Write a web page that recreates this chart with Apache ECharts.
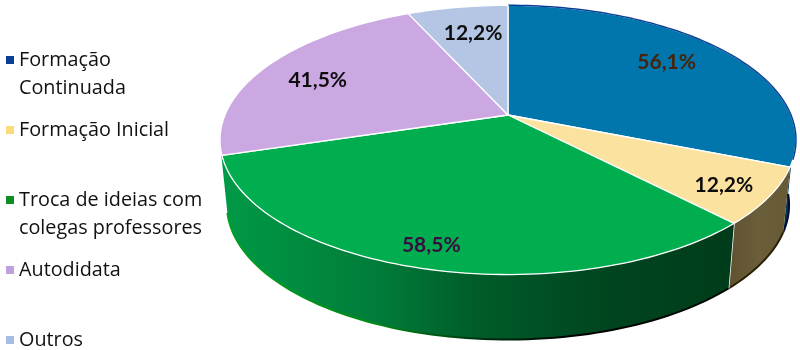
<!DOCTYPE html>
<html><head><meta charset="utf-8">
<script src="https://cdn.jsdelivr.net/npm/echarts@6/dist/echarts.min.js"></script>
<style>html,body{margin:0;padding:0;background:#fff}#c{width:800px;height:350px;filter:blur(0.4px)}</style>
</head><body><div id="c"></div>
<script>
const categories = ['Formação Continuada','Formação Inicial','Troca de ideias com colegas professores','Autodidata','Outros'];
const legendLabels = ['Formação\nContinuada','Formação Inicial\n ','Troca de ideias com\ncolegas professores','Autodidata\n ','Outros\n '];
const values = [56.1,12.2,58.5,41.5,12.2];
const legendColors = ['#0b3f96','#fbdc78','#0b8f23','#bf9fe0','#a5bde5'];
const faceColors = ['#0076ad','#fbe29f','#00ae4f','#cba8e2','#b4c6e4'];
const labelColors = ['#47230a','#0d0d0d','#3a0d40','#0d0d0d','#0d0d0d'];
const labelRadius = [0.75,0.849,0.877,0.762,0.725];
const labelAngleShift = [-2,1.15,0.55,-2.5,1.05];

// Perspective view of the disc
const CX=508, CY=115, RX=283, RY=130, K=0.1852, DEPTH=65, BOTTOM_SCALE=0.976;
const RAD=Math.PI/180;
function topPoint(theta,r){
  r = r===undefined?1:r;
  const u=r*Math.sin(theta*RAD), v=-r*Math.cos(theta*RAD), s=1/(1-K*v);
  return [CX+RX*u*s, CY+RY*v*s];
}
function bottomPoint(theta){
  const p=topPoint(theta);
  return [CX+(p[0]-CX)*BOTTOM_SCALE, p[1]+DEPTH];
}
function arc(fn,a,b){
  const n=Math.max(2,Math.ceil(Math.abs(b-a)/1.5)), pts=[];
  for(let i=0;i<=n;i++) pts.push(fn(a+(b-a)*i/n));
  return pts;
}
const total=values.reduce((a,b)=>a+b,0);
const starts=[]; values.reduce((acc,v,i)=>{starts[i]=acc;return acc+v/total*360;},0);

const hGrad=stops=>({type:'linear',x:0,y:0,x2:1,y2:0,global:false,colorStops:stops});
const wallFill=[
  hGrad([{offset:0,color:'#00304f'},{offset:1,color:'#00406a'}]),
  hGrad([{offset:0,color:'#5e5230'},{offset:0.5,color:'#6b5e3a'},{offset:1,color:'#665a35'}]),
  hGrad([{offset:0,color:'#009a47'},{offset:0.3,color:'#007d39'},{offset:0.5,color:'#005c2a'},{offset:0.75,color:'#00451f'},{offset:1,color:'#003c1b'}]),
];
const wallRim=[
  '#000c30',
  '#2a2005',
  hGrad([{offset:0,color:'#00a020'},{offset:0.3,color:'#008a18'},{offset:0.52,color:'#002a10'},{offset:0.7,color:'#000000'},{offset:1,color:'#000a04'}]),
];
const FRONT_A=96, FRONT_B=256;

function renderSlice(i){
  return function(params,api){
    const sweep=api.value(0)/total*360, a=starts[i], b=a+sweep, kids=[];
    const wa=Math.max(a,FRONT_A), wb=i===2?FRONT_B:Math.min(b,FRONT_B);
    if(wb>wa && i<3){
      const lower=arc(bottomPoint,wa,wb);
      kids.push({type:'polygon',shape:{points:arc(topPoint,wa,wb).concat(lower.slice().reverse())},
        style:{fill:wallFill[i]}});
      kids.push({type:'polyline',shape:{points:lower},style:{fill:'none',stroke:wallRim[i],lineWidth:2}});
      if(i===1){
        kids.push({type:'line',shape:{x1:topPoint(wb)[0],y1:topPoint(wb)[1],x2:bottomPoint(wb)[0],y2:bottomPoint(wb)[1]},style:{stroke:'#fff',lineWidth:1.5}});
      }
    }
    const rim=arc(topPoint,a,b);
    kids.push({type:'polygon',shape:{points:[[CX,CY]].concat(rim)},
      style:{fill:faceColors[i],stroke:'#fff',lineWidth:1.3,lineJoin:'round'}});
    if(i===0){
      kids.push({type:'polyline',shape:{points:arc(topPoint,a,b-3)},style:{fill:'none',stroke:'#0b3f96',lineWidth:1.5}});
    }
    const mid=a+sweep/2+labelAngleShift[i], lp=topPoint(mid,labelRadius[i]);
    kids.push({type:'text',z2:10,style:{text:api.value(0).toFixed(1).replace('.',',')+'%',x:lp[0],y:lp[1],
      align:'center',verticalAlign:'middle',fill:labelColors[i],font:'bold 21px Lato, "Open Sans", sans-serif'}});
    return {type:'group',children:kids};
  };
}

const chart=echarts.init(document.getElementById('c'),null,{renderer:'canvas'});
chart.setOption({
  animation:false,
  backgroundColor:'#fff',
  color:legendColors,
  legend:{
    orient:'vertical',left:6,top:46,height:400,itemGap:14,itemWidth:8,itemHeight:56,padding:0,selectedMode:false,
    icon:'path://M0 10H8V18H0Z M0 0H0 M0 56H0',
    data:categories,
    formatter:n=>legendLabels[categories.indexOf(n)],
    textStyle:{fontFamily:'"Open Sans", sans-serif',fontSize:19.8,lineHeight:28,color:'#111'}
  },
  series:categories.map((name,i)=>({
    type:'custom',name,coordinateSystem:'none',silent:true,
    itemStyle:{color:legendColors[i]},
    data:[[values[i]]],
    renderItem:renderSlice(i)
  }))
});
</script></body></html>
